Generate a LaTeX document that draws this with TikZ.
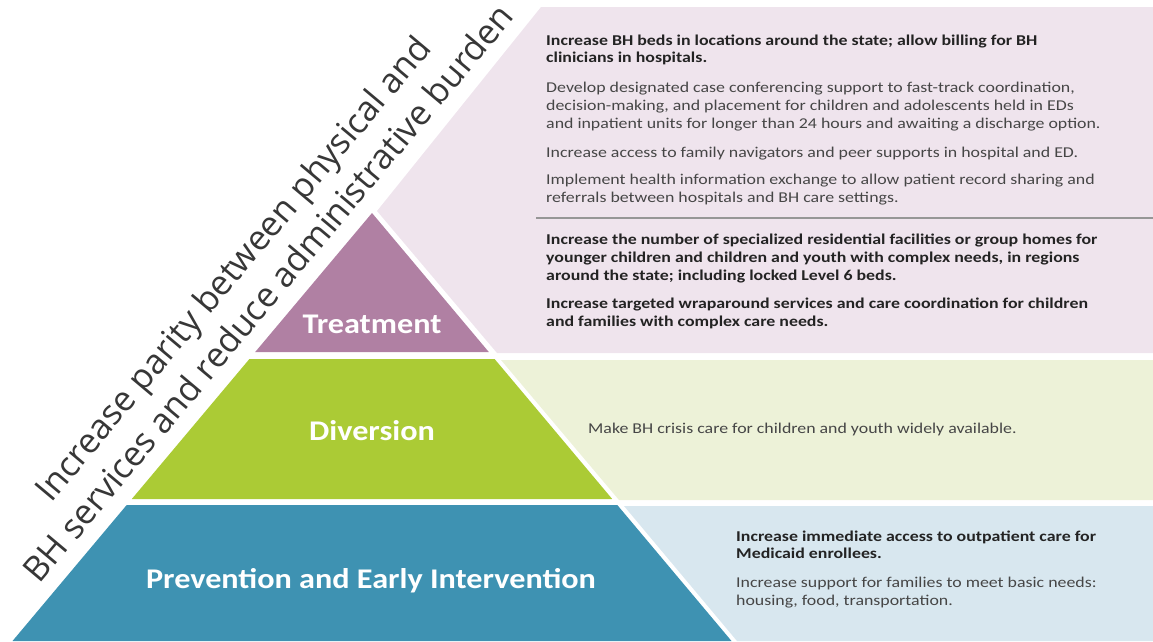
\documentclass[tikz,border=0pt]{standalone}
\usepackage{fontspec}
\setmainfont{Carlito}[FakeStretch=1.19]
\newfontfamily\labelfont{Carlito}[FakeStretch=1.13]
\newfontfamily\rotfont{Open Sans}
\definecolor{treatc}{RGB}{176,128,163}
\definecolor{divc}{RGB}{171,203,53}
\definecolor{prevc}{RGB}{62,146,178}
\definecolor{pinkp}{RGB}{239,228,237}
\definecolor{greenp}{RGB}{237,242,216}
\definecolor{bluep}{RGB}{216,231,239}
\definecolor{bodygray}{RGB}{70,70,70}
\definecolor{boldgray}{RGB}{35,35,35}
\definecolor{slogangray}{RGB}{55,55,55}
\definecolor{sepgray}{RGB}{150,150,150}
\newcommand\paralines[1]{\vtop{\baselineskip=17.8pt\halign{##\hfil\cr#1\crcr}}}
\begin{document}
\begin{tikzpicture}[x=1pt,y=-1pt,
  body/.style={anchor=base west, inner sep=0pt, text=bodygray, font=\fontsize{15}{17.8}\selectfont},
  bodybold/.style={anchor=base west, inner sep=0pt, text=boldgray, font=\fontsize{15}{17.8}\selectfont\bfseries},
  levellabel/.style={anchor=base, inner sep=0pt, text=white, font=\labelfont\fontsize{28.5}{34}\selectfont\bfseries},
  slogan/.style={anchor=base, inner sep=0pt, rotate=50, text=slogangray, font=\rotfont\fontsize{34.5}{43}\selectfont}]
\useasboundingbox (0,0) rectangle (1153,641);
% pyramid
\fill[treatc] (372,213) -- (255.2,352) -- (488.8,352) -- cycle;
\fill[divc] (249.4,359) -- (494.6,359) -- (612.2,499) -- (131.8,499) -- cycle;
\fill[prevc] (126.7,505) -- (617.3,505) -- (731.5,641) -- (12.5,641) -- cycle;
% panels
\fill[pinkp] (541,7) -- (1153,7) -- (1153,353) -- (497,353) -- (377,211) -- cycle;
\fill[greenp] (501,360) -- (1153,360) -- (1153,500) -- (619,500) -- cycle;
\fill[bluep] (624,506) -- (1153,506) -- (1153,641) -- (737,641) -- cycle;
\draw[sepgray, line width=1.2pt] (536,218) -- (1153,218);
% level labels
\node[levellabel] (treat) at (372,333.5) {Treatment};
\node[levellabel] (div) at (372,440.7) {Diversion};
\node[levellabel] (prev) at (371,588.3) {Prevention and Early Intervention};
% slogan
\node[slogan] (slogan1) at (242,276.5) {Increase parity between physical and};
\node[slogan] (slogan2) at (277.5,301) {BH services and reduce administrative burden};
% treatment texts
\node[bodybold] (t1) at (546,45) {\paralines{Increase BH beds in locations around the state; allow billing for BH\cr clinicians in hospitals.}};
\node[body] (t2) at (546,92.5) {\paralines{Develop designated case conferencing support to fast-track coordination,\cr decision-making, and placement for children and adolescents held in EDs\cr and inpatient units for longer than 24 hours and awaiting a discharge option.}};
\node[body] (t3) at (546,157) {\paralines{Increase access to family navigators and peer supports in hospital and ED.}};
\node[body] (t4) at (546,184.5) {\paralines{Implement health information exchange to allow patient record sharing and\cr referrals between hospitals and BH care settings.}};
\node[bodybold] (t5) at (546,244.5) {\paralines{Increase the number of specialized residential facilities or group homes for\cr younger children and children and youth with complex needs, in regions\cr around the state; including locked Level 6 beds.}};
\node[bodybold] (t6) at (546,308.5) {\paralines{Increase targeted wraparound services and care coordination for children\cr and families with complex care needs.}};
% diversion text
\node[body] (d1) at (588,433.3) {\paralines{Make BH crisis care for children and youth widely available.}};
% prevention texts
\node[bodybold] (p1) at (736,541) {\paralines{Increase immediate access to outpatient care for\cr Medicaid enrollees.}};
\node[body] (p2) at (736,587.5) {\paralines{Increase support for families to meet basic needs:\cr housing, food, transportation.}};
\end{tikzpicture}
\end{document}
